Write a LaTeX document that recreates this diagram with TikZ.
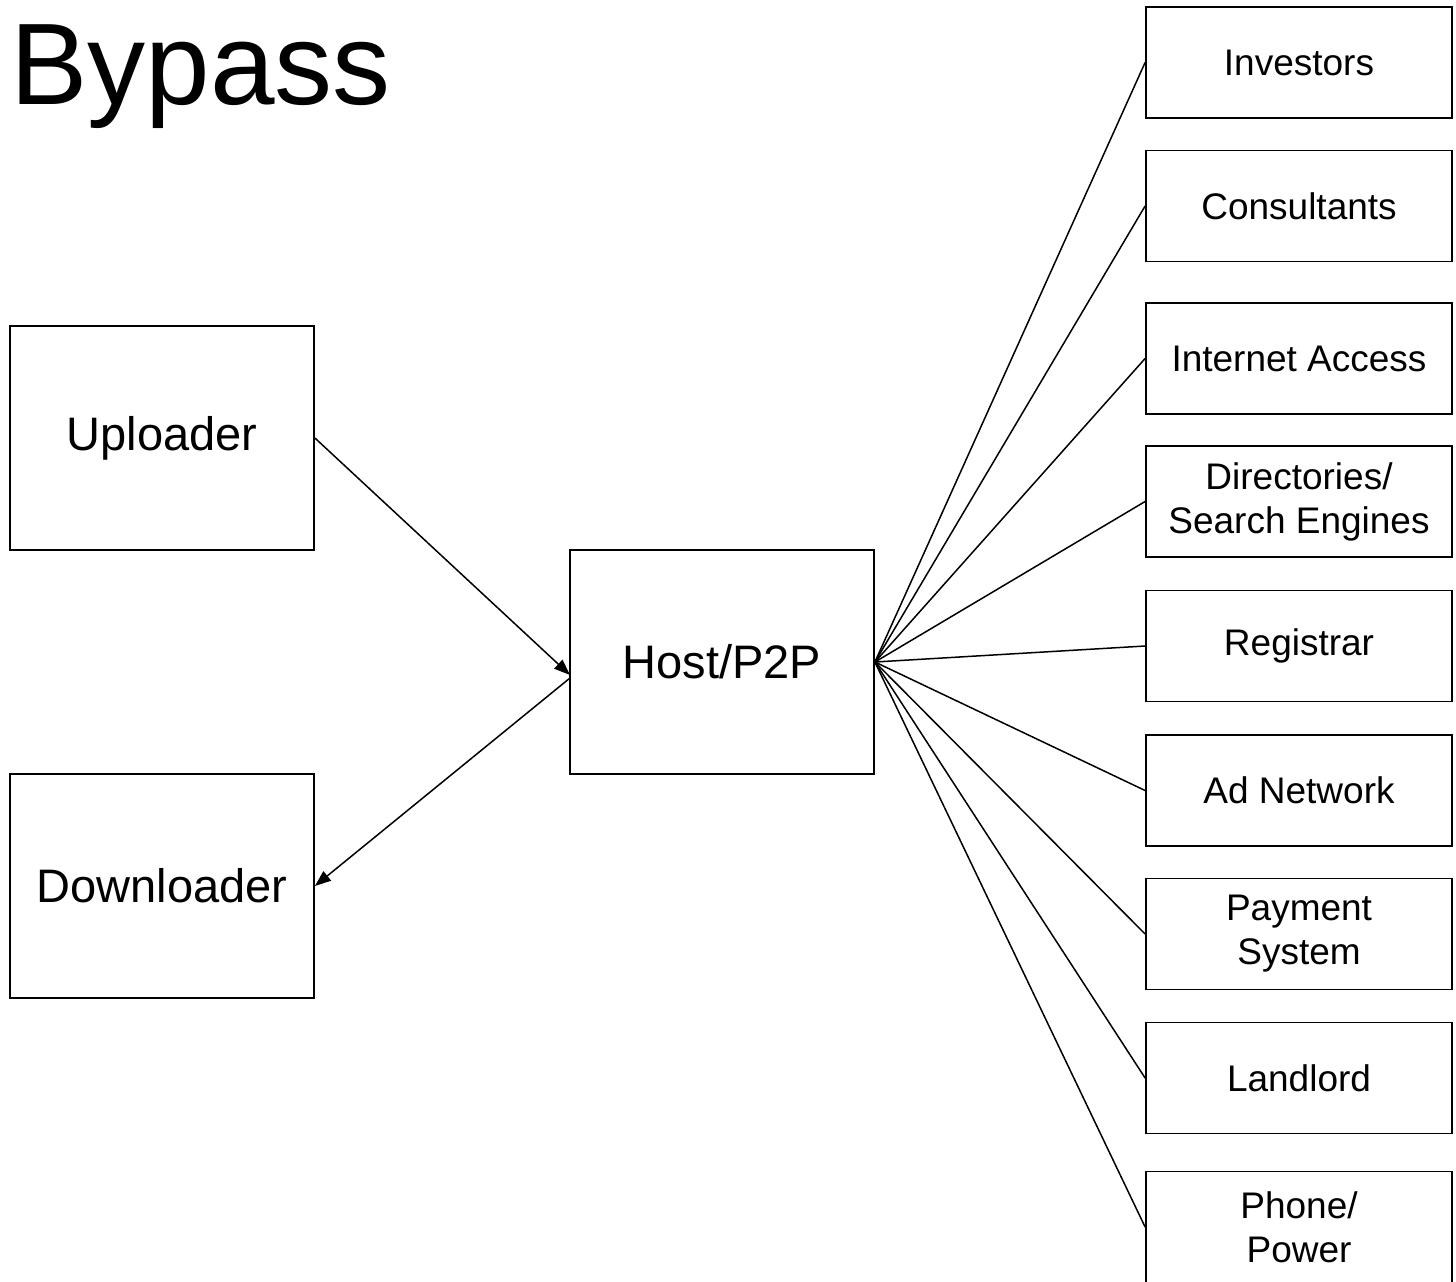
\documentclass[tikz,border=0pt]{standalone}
\usepackage{fontspec}
\setmainfont{Liberation Sans}
\usetikzlibrary{arrows.meta}
\begin{document}
\begin{tikzpicture}[x=1pt,y=-1pt,
  bigbox/.style={draw,line width=1.8pt,minimum width=304pt,minimum height=224pt,inner sep=0pt,font=\fontsize{47}{56}\selectfont},
  smallbox/.style={draw,line width=1.8pt,minimum width=306pt,minimum height=111pt,inner sep=0pt,align=center,font=\fontsize{37}{44}\selectfont},
  link/.style={line width=1.5pt},
  arr/.style={line width=1.5pt,-{Triangle[length=16pt,width=12pt]}}]
\useasboundingbox (0,0) rectangle (1456,1282);
\node[anchor=base west,inner sep=0pt,font=\fontsize{116}{130}\selectfont] (title) at (10,104) {Bypass};
\node[bigbox] (up) at (162,438) {\raisebox{-4pt}{Uploader}};
\node[bigbox] (down) at (162,886) {\raisebox{-2pt}{Downloader}};
\node[bigbox] (host) at (722,662) {Host/P2P};
\node[smallbox] (inv) at (1299,62.5) {\raisebox{-3pt}{Investors}};
\node[smallbox] (con) at (1299,206) {\raisebox{-2pt}{Consultants}};
\node[smallbox] (net) at (1299,358.5) {Internet Access};
\node[smallbox] (dir) at (1299,501.5) {Directories/\\Search Engines};
\node[smallbox] (reg) at (1299,646) {Registrar};
\node[smallbox] (ad) at (1299,790.5) {Ad Network};
\node[smallbox] (pay) at (1299,934) {Payment\\System};
\node[smallbox] (land) at (1299,1078) {Landlord};
\node[smallbox] (phone) at (1299,1227) {Phone/\\Power};
\coordinate (hin) at (570,675);
\coordinate (hout) at (570,678);
\draw[arr] (up.east) -- (hin);
\draw[arr] (hout) -- (down.east);
\foreach \b in {inv,con,net,dir,reg,ad,pay,land,phone}
  \draw[link] (host.east) -- (\b.west);
\end{tikzpicture}
\end{document}
